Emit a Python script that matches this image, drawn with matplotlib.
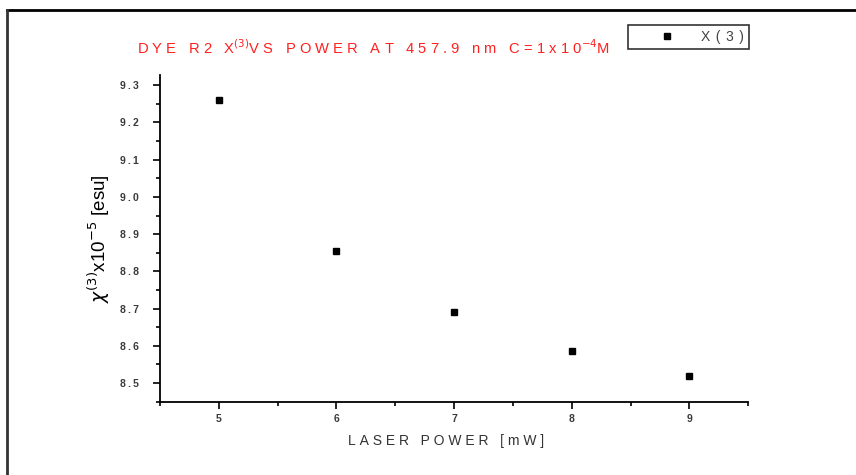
import numpy as np
import matplotlib.pyplot as plt
from matplotlib.lines import Line2D

plt.rcParams['font.family'] = ['Liberation Sans', 'DejaVu Sans']

power = [5, 6, 7, 8, 9]
chi3 = [9.26, 8.855, 8.69, 8.585, 8.52]


def spaced(s, gap='\u2009'):
    # Origin-style wide letter spacing
    return gap.join(s)


fig = plt.figure(figsize=(8.56, 4.75), dpi=100)
ax = fig.add_axes([0.187, 0.1537, 0.687, 0.688])

ax.plot(power, chi3, 's', color='black', markersize=5, label='X(3)')

ax.set_xlim(4.5, 9.5)
ax.set_ylim(8.449, 9.327)
ax.set_xticks([5, 6, 7, 8, 9])
ax.set_xticks(np.arange(4.5, 9.6, 0.5), minor=True)
ax.set_yticks(np.arange(8.5, 9.31, 0.1))
ax.set_yticks(np.arange(8.45, 9.33, 0.05), minor=True)
ax.set_yticklabels([spaced(f'{v:.1f}') for v in np.arange(8.5, 9.31, 0.1)])
ax.tick_params(which='major', direction='out', length=5, width=1.2,
               labelsize=7.5, labelcolor='#3a3a3a', pad=4)
ax.tick_params(axis='y', which='major', pad=10)
ax.tick_params(which='minor', direction='out', length=3, width=1.2)
for lab in ax.get_xticklabels() + ax.get_yticklabels():
    lab.set_fontweight('bold')
for side in ('top', 'right'):
    ax.spines[side].set_visible(False)
for side in ('left', 'bottom'):
    ax.spines[side].set_linewidth(1.3)

ax.set_xlabel(spaced('LASER POWER [mW]', '\u2009\u200a'), fontsize=10, color='#333333')
ax.xaxis.set_label_coords(0.487, -0.098)
ax.set_ylabel(r'$\chi^{(3)}$x10$^{-5}$ [esu]', fontsize=13.5, color='black', labelpad=6)

gap = '\u2009\u200a'
fig.text(0.16, 0.9, spaced('DYE R2 X', gap) + r'$^{(3)}$' + spaced('VS POWER AT 457.9 nm C=1x10', gap)
         + r'$^{-4}$' + 'M', color='#ff2020', fontsize=10.6, va='center', ha='left')

leg = fig.legend(handles=[Line2D([], [], marker='s', ls='', color='black', markersize=5)],
                 labels=[spaced('X(3)', '\u2009\u2009')], loc='upper left',
                 bbox_to_anchor=(0.7336, 0.947),
                 frameon=True, fancybox=False, edgecolor='black', fontsize=10,
                 handletextpad=0.0, borderpad=0.35, handlelength=4.9, borderaxespad=0)
leg.get_frame().set_linewidth(1.2)
for t in leg.get_texts():
    t.set_color('#444444')

# outer frame lines along the top and left edge
fig.add_artist(Line2D([0.008, 1.0], [0.978, 0.978], color='black', lw=2,
                      transform=fig.transFigure))
fig.add_artist(Line2D([0.008, 0.008], [0.0, 0.978], color='#333333', lw=2,
                      transform=fig.transFigure))

fig.savefig('out.png', dpi=100)
